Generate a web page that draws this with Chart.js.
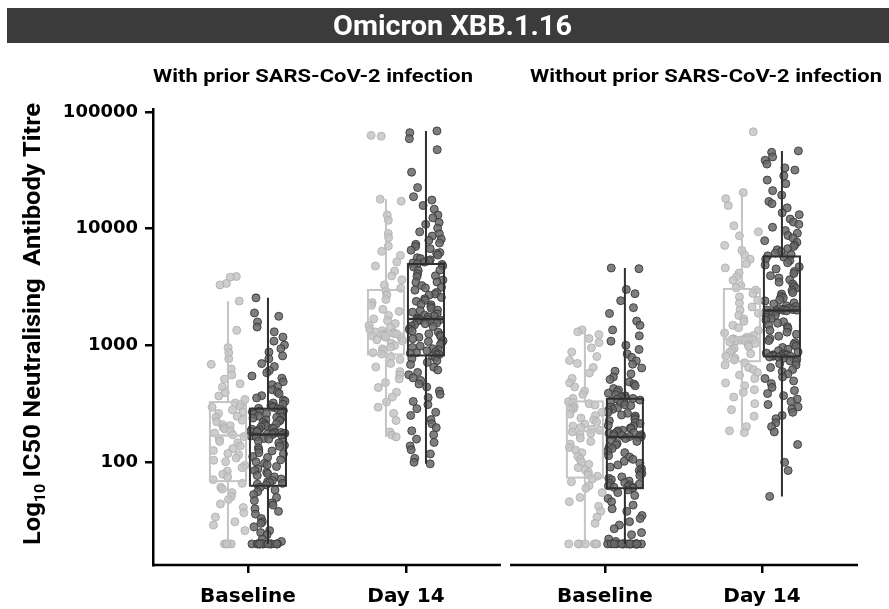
<!DOCTYPE html>
<html lang="en">
<head>
<meta charset="utf-8">
<title>Omicron XBB.1.16</title>
<script src="https://cdn.jsdelivr.net/npm/chart.js@4.4.1/dist/chart.umd.min.js"></script>
<style>
  html, body { margin: 0; padding: 0; background: #fff; }
  canvas { display: block; }
</style>
</head>
<body>
<canvas id="chart" width="889" height="609"></canvas>
<script>
// Category ticks (two panels, two time points each)
const tickLabels = ['Baseline', 'Day 14', 'Baseline', 'Day 14'];
const yTicks = [100, 1000, 10000, 100000];

// Box statistics: [whisker low, Q1, median, Q3, whisker high]
const statsLight = [
  [20, 69, 170, 328, 2390],
  [164, 838, 1260, 2990, 17900],
  [20, 74, 185, 332, 1360],
  [179, 734, 1140, 3050, 20400],
];
const statsDark = [
  [20, 63, 173, 288, 2560],
  [97, 822, 1690, 4990, 68800],
  [20, 60, 165, 350, 4610],
  [51, 806, 1990, 5790, 46400],
];

// Individual titres (estimated from the jittered points)
const withBaseLight = [
  3900, 3850, 3400, 3300, 2400, 1350, 960, 870, 770, 690, 630, 560, 515, 470, 440, 395, 370, 345,
  322, 312, 300, 296, 281, 270, 262, 248, 243, 229, 222, 210, 206, 198, 193, 186, 178, 172,
  166, 158, 151, 147, 138, 131, 126, 119, 116, 109, 104, 101, 94, 90, 84, 79, 75, 71,
  66, 61, 59, 55, 51, 48, 44, 41, 37, 34, 31, 29, 26, 20, 20, 20, 20, 20,
];
const withBaseDark = [
  2560, 1900, 1780, 1590, 1440, 1310, 1180, 1090, 1010, 940, 880, 815, 770, 700, 660, 610, 585, 548,
  525, 490, 462, 445, 418, 400, 388, 372, 356, 341, 334, 322, 314, 306, 299, 295, 290,
  287, 284, 276, 275, 270, 262, 261, 258, 249, 244, 243, 239, 231, 229, 226, 220, 214, 213,
  210, 204, 201, 197, 195, 192, 191, 186, 184, 182, 181, 180, 178, 177, 175, 174, 173,
  170, 168, 165, 160, 158, 152, 150, 146, 140, 137, 133, 128, 125, 121, 118, 112, 110, 105,
  101, 98, 95, 92, 88, 85, 82, 80, 77, 75, 72, 70, 68, 67, 66, 65, 64,
  61, 58, 56, 53, 50, 47, 45, 43, 40, 38, 36, 33, 31, 30, 28, 26, 25, 24, 22, 21,
  20, 20, 20, 20, 20, 20, 20, 20, 20, 20, 20, 20, 20, 20, 20,
];
const withDayLight = [
  63000, 62000, 17900, 17200, 13100, 11800, 9100, 8400, 7100, 6400, 5900, 5200, 4800, 4350, 3950, 3650, 3300, 3100,
  2920, 2710, 2480, 2330, 2210, 2040, 1960, 1810, 1690, 1630, 1540, 1490, 1430, 1370, 1340, 1305, 1290, 1270,
  1255, 1250, 1242, 1233, 1221, 1210, 1198, 1176, 1148, 1120, 1096, 1045, 1002, 968, 936, 902, 868, 846,
  805, 758, 702, 655, 598, 562, 518, 482, 437, 398, 362, 328, 296, 262, 228, 182, 171, 165,
];
const withDayDark = [
  68800, 66500, 59000, 47500, 30500, 22500, 18800, 17600, 15800, 14700, 13100, 12400, 11300, 10900, 10100,
  9400, 9050, 8650, 8150, 7950, 7550, 7350, 7050, 6750, 6550, 6250, 6150, 5950, 5650, 5550, 5420, 5310, 5180, 5090, 5010,
  4950, 4800, 4700, 4420, 4380, 4100, 3950, 3900, 3640, 3500, 3480, 3260, 3150, 3120, 2980, 2850, 2760, 2700,
  2580, 2510, 2440, 2390, 2250, 2230, 2150, 2080, 2010, 1990, 1930, 1870, 1820, 1790, 1760, 1720, 1700,
  1680, 1672, 1660, 1648, 1620, 1598, 1562, 1538, 1502, 1468, 1452, 1398, 1372, 1328, 1302, 1258, 1232, 1198,
  1176, 1142, 1098, 1082, 1048, 1022, 988, 962, 938, 918, 902, 882, 868, 858, 848, 838, 828,
  812, 788, 772, 742, 718, 688, 652, 618, 588, 562, 528, 502, 468, 442, 408, 382, 358, 332,
  312, 288, 268, 252, 232, 214, 198, 186, 172, 158, 148, 138, 128, 118, 108, 100, 97,
];
const withoutBaseLight = [
  1360, 1310, 1240, 1150, 1060, 955, 880, 805, 745, 702, 648, 582, 522, 478, 442, 408, 382, 352,
  330, 324, 318, 309, 301, 289, 281, 268, 259, 251, 239, 231, 221, 212, 204, 199, 192, 188,
  182, 177, 171, 161, 151, 143, 134, 127, 121, 112, 106, 100, 96, 90, 86, 82, 78, 76,
  72, 68, 63, 60, 55, 50, 46, 42, 38, 34, 30, 20, 20, 20, 20, 20, 20, 20,
];
const withoutBaseDark = [
  4610, 4550, 3020, 2780, 2420, 2110, 1880, 1620, 1490, 1360, 1210, 1090, 1005, 925, 848, 792, 738, 692,
  642, 602, 572, 538, 512, 488, 468, 452, 428, 416, 402, 391, 379, 371, 364, 357, 352,
  346, 341, 333, 329, 321, 311, 306, 298, 293, 284, 279, 268, 263, 254, 249, 241, 232, 227,
  219, 215, 207, 204, 197, 194, 188, 186, 181, 179, 177, 175, 172, 170, 169, 167, 166,
  163, 160, 154, 151, 145, 141, 134, 131, 124, 121, 114, 111, 106, 102, 98, 95, 91, 88,
  85, 82, 80, 77, 75, 73, 71, 69, 67, 66, 65, 64, 63, 62, 61, 61, 60,
  58, 55, 52, 49, 46, 43, 40, 38, 35, 33, 31, 29, 27, 25, 24, 22, 21,
  20, 20, 20, 20, 20, 20, 20, 20, 20, 20, 20, 20, 20, 20, 20, 20, 20, 20,
];
const withoutDayLight = [
  67600, 20400, 18100, 15800, 10600, 9400, 8700, 7200, 6550, 5950, 5480, 5020, 4620, 4180, 3880, 3620, 3280, 3120,
  2980, 2790, 2610, 2440, 2310, 2140, 2010, 1890, 1810, 1690, 1610, 1490, 1420, 1345, 1282, 1218, 1178, 1152,
  1140, 1136, 1131, 1122, 1112, 1101, 1088, 1068, 1042, 1012, 978, 948, 912, 878, 852, 812, 778, 752,
  712, 682, 648, 622, 588, 558, 522, 478, 452, 418, 398, 362, 318, 282, 248, 202, 186, 180,
];
const withoutDayDark = [
  46400, 45100, 41200, 38600, 35800, 33200, 31800, 28400, 26100, 24300, 21200, 19400, 17100, 16400, 15100,
  13700, 13200, 12100, 11400, 10900, 10300, 9650, 9150, 8750, 8350, 7900, 7650, 7250, 7050, 6750, 6600, 6380, 6180, 6020, 5860,
  5710, 5480, 5340, 5120, 4890, 4720, 4530, 4310, 4140, 3960, 3790, 3660, 3490, 3360, 3210, 3090, 2960, 2840,
  2760, 2640, 2560, 2470, 2410, 2320, 2270, 2190, 2160, 2090, 2070, 2040, 2030, 2015, 2008, 2001, 1995,
  1982, 1948, 1905, 1846, 1802, 1748, 1703, 1652, 1598, 1553, 1498, 1452, 1402, 1348, 1302, 1248, 1203, 1148,
  1102, 1058, 1022, 988, 962, 928, 902, 882, 862, 848, 842, 832, 826, 821, 816, 811, 808,
  798, 792, 778, 762, 738, 722, 698, 682, 648, 622, 598, 572, 538, 522, 498, 472, 438, 412,
  388, 372, 348, 332, 312, 298, 286, 268, 252, 236, 218, 202, 182, 142, 100, 85, 51,
];

const lightGroups = [withBaseLight, withDayLight, withoutBaseLight, withoutDayLight];
const darkGroups = [withBaseDark, withDayDark, withoutBaseDark, withoutDayDark];

// Layout in x-axis units: categories at these positions, panels split by a small gap
const CATEGORY_POS = [0, 1, 2.259, 3.253];
const X_MIN = -0.601;
const X_MAX = 3.861;
const PANELS = [[-0.601, 1.601], [1.659, 3.861]];
const GROUP_OFFSET = 0.1266;
const BOX_HALF = 0.114;
const JITTER = 0.22;

const LIGHT = { fill: 'rgba(198,198,198,0.85)', edge: 'rgba(176,176,176,0.9)', line: '#c4c4c4' };
const DARK = { fill: 'rgba(104,104,104,0.85)', edge: 'rgba(58,58,58,0.9)', line: '#2f2f2f' };

// Deterministic horizontal spread for the points (index hash, layout only)
function jitter(i, seed) {
  const h = Math.sin((i + 1) * 12.9898 + seed * 78.233) * 43758.5453;
  return (h - Math.floor(h) - 0.5) * JITTER;
}

function pointDataset(values, centre, seed, style) {
  return {
    data: values.map((v, i) => ({ x: centre + jitter(i, seed), y: v })),
    backgroundColor: style.fill,
    borderColor: style.edge,
    borderWidth: 1,
    pointRadius: 4,
  };
}

const datasets = [];
const boxes = [];
CATEGORY_POS.forEach((pos, k) => {
  datasets.push(pointDataset(lightGroups[k], pos - GROUP_OFFSET, 1 + k, LIGHT));
  datasets.push(pointDataset(darkGroups[k], pos + GROUP_OFFSET, 5 + k, DARK));
  boxes.push({ pos: pos - GROUP_OFFSET, stats: statsLight[k], color: LIGHT.line });
  boxes.push({ pos: pos + GROUP_OFFSET, stats: statsDark[k], color: DARK.line });
});

// Draw boxes, whiskers and medians on top of the points
const boxPlugin = {
  id: 'boxes',
  afterDatasetsDraw(chart) {
    const { ctx, scales: { x, y } } = chart;
    boxes.forEach(b => {
      const [lo, q1, med, q3, hi] = b.stats;
      const l = x.getPixelForValue(b.pos - BOX_HALF);
      const r = x.getPixelForValue(b.pos + BOX_HALF);
      const c = x.getPixelForValue(b.pos);
      ctx.save();
      ctx.strokeStyle = b.color;
      ctx.lineWidth = 2;
      ctx.beginPath();
      ctx.moveTo(c, y.getPixelForValue(hi));
      ctx.lineTo(c, y.getPixelForValue(q3));
      ctx.moveTo(c, y.getPixelForValue(q1));
      ctx.lineTo(c, y.getPixelForValue(lo));
      ctx.stroke();
      ctx.strokeRect(l, y.getPixelForValue(q3), r - l, y.getPixelForValue(q1) - y.getPixelForValue(q3));
      ctx.lineWidth = 2.5;
      ctx.beginPath();
      ctx.moveTo(l, y.getPixelForValue(med));
      ctx.lineTo(r, y.getPixelForValue(med));
      ctx.stroke();
      ctx.restore();
    });
  },
};

function fitText(ctx, text, left, baseline, width, font) {
  ctx.font = font;
  const w = ctx.measureText(text).width;
  ctx.save();
  ctx.translate(left, baseline);
  ctx.scale(width / w, 1);
  ctx.textAlign = 'left';
  ctx.textBaseline = 'alphabetic';
  ctx.fillText(text, 0, 0);
  ctx.restore();
}

// Title bar, panel headings, y-axis title and the split x-axis line
const decorPlugin = {
  id: 'decor',
  afterDraw(chart) {
    const { ctx, chartArea, scales: { x } } = chart;
    ctx.save();
    ctx.fillStyle = '#3b3b3b';
    ctx.fillRect(7, 8, 882, 35);
    ctx.fillStyle = '#ffffff';
    fitText(ctx, 'Omicron XBB.1.16', 333, 35, 239, 'bold 28px Roboto');

    ctx.fillStyle = '#000000';
    fitText(ctx, 'With prior SARS-CoV-2 infection', 153, 82, 320, 'bold 19px Roboto');
    fitText(ctx, 'Without prior SARS-CoV-2 infection', 530, 82, 352, 'bold 19px Roboto');

    // y-axis title with subscript
    const main = 'bold 24px Roboto';
    const sub = 'bold 15px Roboto';
    ctx.font = main;
    const wLog = ctx.measureText('Log').width;
    const wRest = ctx.measureText(' IC50 Neutralising  Antibody Titre').width;
    ctx.font = sub;
    const w10 = ctx.measureText('10').width;
    const k = 442 / (wLog + w10 + wRest);
    ctx.translate(40, 545);
    ctx.rotate(-Math.PI / 2);
    ctx.scale(k, 1);
    ctx.textAlign = 'left';
    ctx.textBaseline = 'alphabetic';
    ctx.font = main;
    ctx.fillText('Log', 0, 0);
    ctx.font = sub;
    ctx.fillText('10', wLog, 5);
    ctx.font = main;
    ctx.fillText(' IC50 Neutralising  Antibody Titre', wLog + w10, 0);
    ctx.restore();

    ctx.save();
    ctx.strokeStyle = '#000000';
    ctx.lineWidth = 2.5;
    ctx.beginPath();
    PANELS.forEach(([a, b]) => {
      ctx.moveTo(x.getPixelForValue(a), chartArea.bottom);
      ctx.lineTo(x.getPixelForValue(b), chartArea.bottom);
    });
    ctx.stroke();
    ctx.restore();
  },
};

new Chart(document.getElementById('chart'), {
  type: 'scatter',
  data: { datasets },
  options: {
    responsive: false,
    animation: false,
    events: [],
    layout: { padding: { top: 109, right: 31, left: 0, bottom: 0 } },
    plugins: { legend: { display: false }, tooltip: { enabled: false } },
    scales: {
      x: {
        type: 'linear',
        min: X_MIN,
        max: X_MAX,
        afterBuildTicks: s => { s.ticks = CATEGORY_POS.map(v => ({ value: v })); },
        afterFit: s => { s.height = 44; },
        ticks: {
          callback: (v, i) => tickLabels[i],
          color: '#000',
          font: { family: 'DejaVu Sans', size: 20, weight: 'bold' },
          padding: 12,
          maxRotation: 0,
          autoSkip: false,
        },
        grid: { drawOnChartArea: false, drawTicks: true, tickLength: 8, color: '#000', lineWidth: 2.5 },
        border: { display: false },
      },
      y: {
        type: 'logarithmic',
        min: 13.2,
        max: 106000,
        afterBuildTicks: s => { s.ticks = yTicks.map(v => ({ value: v })); },
        afterFit: s => { s.width = 153; },
        ticks: {
          callback: v => String(v),
          color: '#000',
          font: { family: 'DejaVu Sans', size: 18, weight: 'bold' },
          padding: 7,
        },
        grid: { drawOnChartArea: false, drawTicks: true, tickLength: 8, color: '#000', lineWidth: 2.5 },
        border: { display: true, color: '#000', width: 2.5 },
      },
    },
  },
  plugins: [boxPlugin, decorPlugin],
});
</script>
</body>
</html>
